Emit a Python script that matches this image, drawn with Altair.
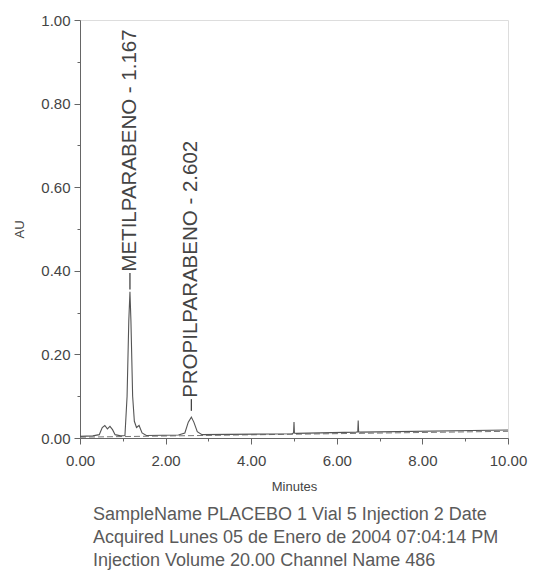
import altair as alt
import pandas as pd

# ---- data ----
trace_t = [0.00, 0.30, 0.45, 0.52, 0.58, 0.64, 0.70, 0.76, 0.82, 0.95, 1.05, 1.10, 1.14, 1.167,
           1.19, 1.23, 1.27, 1.32, 1.38, 1.45, 1.55, 2.30, 2.45, 2.53, 2.602, 2.66, 2.74, 2.85,
           4.95, 4.99, 5.00, 5.01, 5.05, 6.45, 6.49, 6.50, 6.51, 6.55, 10.00]
trace_v = [0.004, 0.005, 0.008, 0.025, 0.030, 0.022, 0.028, 0.020, 0.008, 0.005, 0.006, 0.10, 0.28, 0.35,
           0.28, 0.10, 0.04, 0.025, 0.030, 0.012, 0.006, 0.007, 0.012, 0.038, 0.050, 0.038, 0.015, 0.008,
           0.010, 0.012, 0.038, 0.012, 0.011, 0.014, 0.015, 0.042, 0.015, 0.014, 0.019]

base_t = [0.0, 10.0]
base_v = [0.002, 0.016]

peak_names = ["METILPARABENO - 1.167", "PROPILPARABENO - 2.602"]
peak_t = [1.167, 2.602]
leader_lo = [0.355, 0.065]
leader_hi = [0.395, 0.093]
label_v = [0.398, 0.096]

x_tick_values = [0.0, 0.5, 1.0, 1.5, 2.0, 2.5, 3.0, 3.5, 4.0, 4.5, 5.0, 5.5, 6.0, 6.5, 7.0,
                 7.5, 8.0, 8.5, 9.0, 9.5, 10.0]
y_tick_values = [0.0, 0.05, 0.10, 0.15, 0.20, 0.25, 0.30, 0.35, 0.40, 0.45, 0.50, 0.55, 0.60,
                 0.65, 0.70, 0.75, 0.80, 0.85, 0.90, 0.95, 1.00]

footer_lines = ["SampleName PLACEBO 1 Vial 5 Injection 2 Date",
                "Acquired Lunes 05 de Enero de 2004 07:04:14 PM",
                "Injection Volume 20.00 Channel Name 486"]

trace = pd.DataFrame({"t": trace_t, "v": trace_v})
base = pd.DataFrame({"t": base_t, "v": base_v})
peaks = pd.DataFrame({"name": peak_names, "t": peak_t, "lo": leader_lo,
                      "hi": leader_hi, "lv": label_v})

FONT = "Liberation Sans"
INK = "#444444"

xscale = alt.Scale(domain=[0, 10], nice=False, zero=False)
yscale = alt.Scale(domain=[0, 1], nice=False)

xaxis = alt.Axis(
    title="Minutes", values=x_tick_values, format=".2f", labelFlush=False,
    labelExpr="round(datum.value*10) % 20 == 0 ? datum.label : ''",
    tickSize={"condition": {"test": "round(datum.value*10) % 20 == 0", "value": 6}, "value": 3},
    labelFontSize=15, titleFontSize=13, labelColor=INK, titleColor=INK,
    domainColor="#666666", tickColor="#666666", labelPadding=9, titlePadding=12,
    labelFont=FONT, titleFont=FONT, grid=False, titleFontWeight="normal",
)
yaxis = alt.Axis(
    title="AU", values=y_tick_values, format=".2f",
    labelExpr="round(datum.value*100) % 20 == 0 ? datum.label : ''",
    tickSize={"condition": {"test": "round(datum.value*100) % 20 == 0", "value": 6}, "value": 3},
    labelFontSize=15, titleFontSize=13, labelColor=INK, titleColor=INK,
    domainColor="#666666", tickColor="#666666", labelPadding=4, titlePadding=14,
    labelFont=FONT, titleFont=FONT, grid=False, titleFontWeight="normal",
)

line = alt.Chart(trace).mark_line(color="#555555", strokeWidth=1.1).encode(
    x=alt.X("t:Q", scale=xscale, axis=xaxis),
    y=alt.Y("v:Q", scale=yscale, axis=yaxis),
)

baseline = alt.Chart(base).mark_line(color="#777777", strokeWidth=1, strokeDash=[6, 3]).encode(
    x=alt.X("t:Q", scale=xscale),
    y=alt.Y("v:Q", scale=yscale),
)

leaders = alt.Chart(peaks).mark_rule(color=INK, strokeWidth=1.3).encode(
    x=alt.X("t:Q", scale=xscale),
    y=alt.Y("lo:Q", scale=yscale),
    y2="hi:Q",
)

labels = alt.Chart(peaks).mark_text(
    angle=270, align="left", baseline="middle", fontSize=20.5, font=FONT, color=INK
).encode(
    x=alt.X("t:Q", scale=xscale),
    y=alt.Y("lv:Q", scale=yscale),
    text="name:N",
)

chart = alt.layer(baseline, line, leaders, labels).properties(
    width=428, height=418,
    autosize=alt.AutoSizeParams(type="none"),
    padding={"left": 80, "top": 20, "right": 30, "bottom": 140},
    title=alt.TitleParams(
        text=footer_lines, orient="bottom", anchor="start", frame="group", dx=13, offset=13,
        fontSize=18, lineHeight=23, font=FONT, color="#5a5a5a", fontWeight="normal",
    ),
).configure_view(stroke="#777777", strokeWidth=1.2).configure(background="white")

chart.save("out.html", embed_options={"renderer": "svg", "actions": False})
